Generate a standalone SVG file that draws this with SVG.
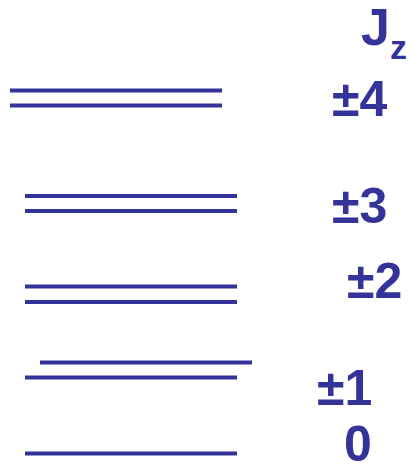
<svg xmlns="http://www.w3.org/2000/svg" width="413" height="466" viewBox="0 0 413 466">
<style>
.lv{stroke:#333399;stroke-width:4;fill:none}
.lb{font-family:"Liberation Sans",Arial,sans-serif;font-weight:bold;font-size:50px;fill:#333399}
</style>
<rect width="413" height="466" fill="#ffffff"/>
<g id="header">
<text class="lb" x="361" y="45" style="font-size:52px">J</text>
<text class="lb" x="390" y="59" style="font-size:34px">z</text>
</g>
<g id="level4">
<line class="lv" x1="10" y1="90.5" x2="222" y2="90.5"/>
<line class="lv" x1="10" y1="105.5" x2="222" y2="105.5"/>
<text class="lb" x="332" y="116">±4</text>
</g>
<g id="level3">
<line class="lv" x1="25" y1="196" x2="237" y2="196"/>
<line class="lv" x1="25" y1="211" x2="237" y2="211"/>
<text class="lb" x="332" y="222.5">±3</text>
</g>
<g id="level2">
<line class="lv" x1="25" y1="286.5" x2="237" y2="286.5"/>
<line class="lv" x1="25" y1="302" x2="237" y2="302"/>
<text class="lb" x="347" y="298">±2</text>
</g>
<g id="level1">
<line class="lv" x1="40" y1="362.5" x2="252" y2="362.5"/>
<line class="lv" x1="25" y1="377.5" x2="237" y2="377.5"/>
<text class="lb" x="317" y="405">±1</text>
</g>
<g id="level0">
<line class="lv" x1="25" y1="453.5" x2="237" y2="453.5"/>
<text class="lb" x="344" y="461">0</text>
</g>
</svg>
